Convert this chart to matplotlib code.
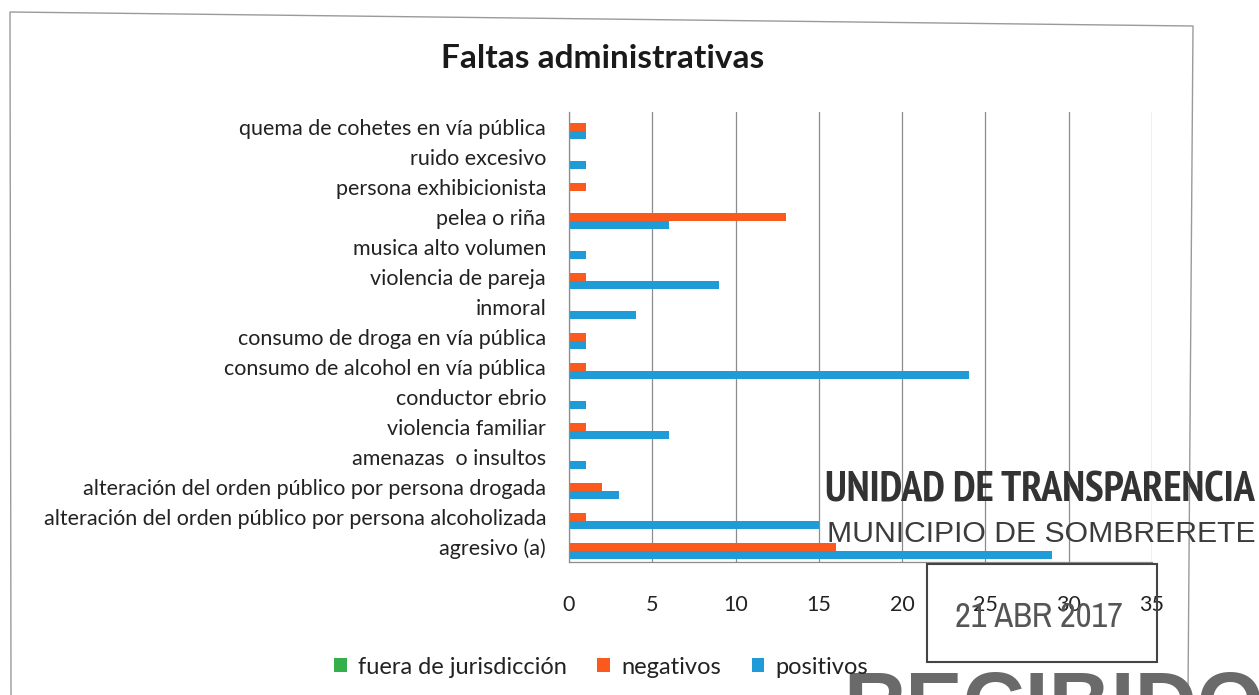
import matplotlib
matplotlib.use('Agg')
import matplotlib.pyplot as plt
from matplotlib import font_manager
from matplotlib.font_manager import FontProperties
import numpy as np
from matplotlib.patches import Rectangle
from matplotlib.lines import Line2D

plt.rcParams['font.family'] = ['Lato', 'DejaVu Sans']

categorias = ['agresivo (a)',
              'alteración del orden público por persona alcoholizada',
              'alteración del orden público por persona drogada',
              'amenazas  o insultos',
              'violencia familiar',
              'conductor ebrio',
              'consumo de alcohol en vía pública',
              'consumo de droga en vía pública',
              'inmoral',
              'violencia de pareja',
              'musica alto volumen',
              'pelea o riña',
              'persona exhibicionista',
              'ruido excesivo',
              'quema de cohetes en vía pública']
fuera = [0, 0, 0, 0, 0, 0, 0, 0, 0, 0, 0, 0, 0, 0, 0]
negativos = [16, 1, 2, 0, 1, 0, 1, 1, 0, 1, 0, 13, 1, 0, 1]
positivos = [29, 15, 3, 1, 6, 1, 24, 1, 4, 9, 1, 6, 0, 1, 1]
xticks = [0, 5, 10, 15, 20, 25, 30, 35]

c_green = '#34b04a'
c_orange = '#fa5a1e'
c_blue = '#1f9bd7'


# fuentes angostas para los sellos, si hay alguna
def find_narrow(bold):
    best = None
    for f in font_manager.fontManager.ttflist:
        is_narrow = 'Narrow' in f.name or 'ondensed' in f.fname or f.stretch == 'condensed'
        is_bold = f.weight in ('bold', 700, 'semibold', 600)
        if is_narrow and f.style == 'normal' and is_bold == bold:
            if best is None or ('Narrow' in f.name and 'Narrow' not in best):
                best = f.fname
    return FontProperties(fname=best) if best else FontProperties(family='DejaVu Sans')


fp_narrow = find_narrow(False)
fp_narrow_b = find_narrow(True)

W, H = 1259, 695
fig = plt.figure(figsize=(W / 100, H / 100), dpi=100)
ax = fig.add_axes([569 / W, 1 - 562 / H, (1152 - 569) / W, (562 - 112) / H])

y = np.arange(len(categorias))
h = 0.27
ax.barh(y + h, fuera, height=h, color=c_green, label='fuera de jurisdicción')
ax.barh(y, negativos, height=h, color=c_orange, label='negativos')
ax.barh(y - h, positivos, height=h, color=c_blue, label='positivos')

ax.set_ylim(-0.5, len(categorias) - 0.5)
ax.set_xlim(0, 35)
ax.set_xticks(xticks)
ax.set_yticks(y)
ax.set_yticklabels(categorias)
ax.tick_params(axis='y', length=0, pad=16.5, labelsize=15.5, labelcolor='#222222')
ax.tick_params(axis='x', length=0, pad=24, labelsize=15.5, labelcolor='#222222')
ax.grid(axis='x', color='#8c8c8c', lw=0.9)
ax.set_axisbelow(True)
for s in ['top', 'right']:
    ax.spines[s].set_visible(False)
for s in ['left', 'bottom']:
    ax.spines[s].set_color('#8c8c8c')
    ax.spines[s].set_linewidth(0.9)

fig.text(603 / W, 1 - 58 / H, 'Faltas administrativas', ha='center', va='center',
         fontsize=24, fontweight='bold', color='#1a1a1a')

leg = fig.legend(loc='center', bbox_to_anchor=(601 / W, 1 - 667 / H), ncol=3,
                 frameon=False, fontsize=17, handlelength=0.55, handleheight=0.55,
                 handletextpad=0.45, columnspacing=1.3)
for t in leg.get_texts():
    t.set_color('#222222')

# marco del grafico escaneado (un poco inclinado)
fig.add_artist(Line2D([11 / W, 10 / W, 1193 / W, 1188 / W],
                      [0, 1 - 12 / H, 1 - 26 / H, 0],
                      transform=fig.transFigure, color='#9a9a9a', lw=1.0))

# sellos
stamp = '#3c3c3c'
renderer = fig.canvas.get_renderer()


def fit_text(x, yy, s, width_px, size, fp, color=stamp):
    t = fig.text(x / W, 1 - yy / H, s, ha='center', va='center', color=color,
                 fontproperties=fp.copy())
    t.set_fontsize(size)
    w = t.get_window_extent(renderer).width
    t.set_fontsize(size * width_px / w)
    return t


fit_text(1040, 491, 'UNIDAD DE TRANSPARENCIA', 430, 30, fp_narrow_b, '#333333')
fit_text(1041, 534, 'MUNICIPIO DE SOMBRERETE', 427, 22,
         FontProperties(family=['Liberation Sans', 'DejaVu Sans']))
fig.patches.append(Rectangle((927 / W, 1 - 662 / H), (1157 - 927) / W, (662 - 564) / H,
                             transform=fig.transFigure, fill=False,
                             edgecolor='#444444', lw=1.5))
fit_text(1039, 617, '21 ABR 2017', 168, 26, fp_narrow, '#555555')
fig.text(843 / W, 1 - 670 / H, 'RECIBIDO', ha='left', va='top',
         fontsize=62, fontweight='bold', color='#6a6a6a',
         family=['Liberation Sans', 'DejaVu Sans'])

fig.savefig('out.png', dpi=100, facecolor='white')
